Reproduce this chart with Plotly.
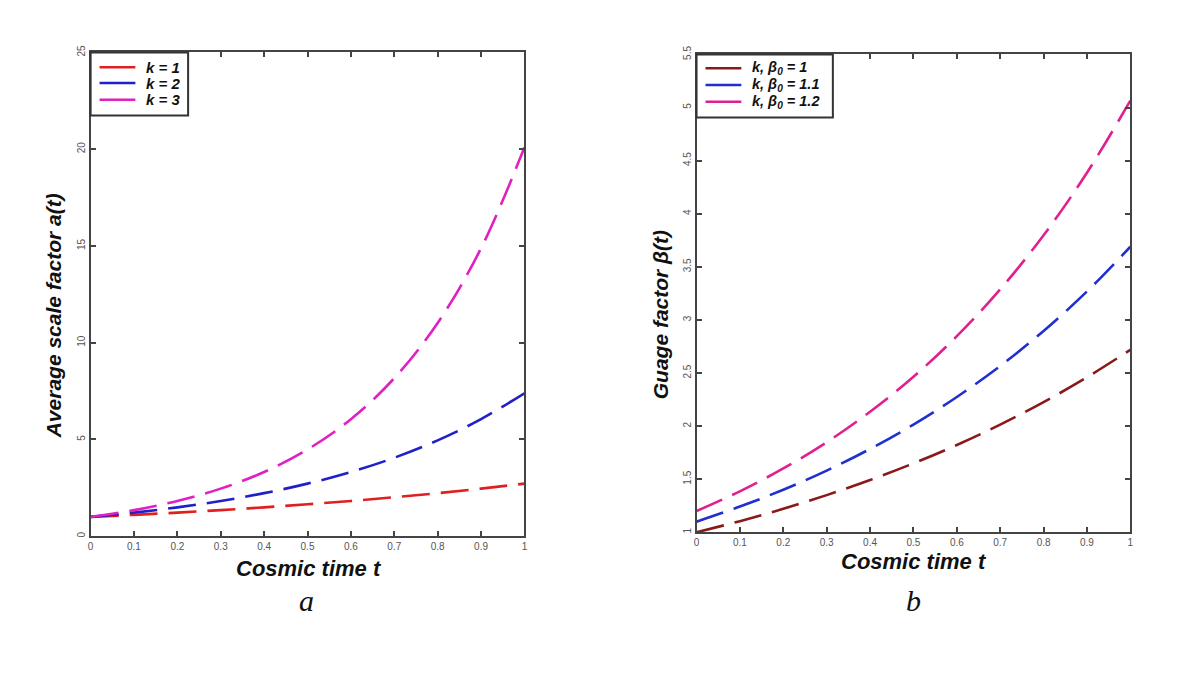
import plotly.graph_objects as go

# ---- data ----
t = [0, 0.1, 0.2, 0.3, 0.4, 0.5, 0.6, 0.7, 0.8, 0.9, 1.0]

a_k1 = [1.0, 1.105, 1.221, 1.350, 1.492, 1.649, 1.822, 2.014, 2.226, 2.460, 2.718]
a_k2 = [1.0, 1.221, 1.492, 1.822, 2.226, 2.718, 3.320, 4.055, 4.953, 6.050, 7.389]
a_k3 = [1.0, 1.350, 1.822, 2.460, 3.320, 4.482, 6.050, 8.166, 11.02, 14.88, 20.09]

b_10 = [1.0, 1.105, 1.221, 1.350, 1.492, 1.649, 1.822, 2.014, 2.226, 2.460, 2.718]
b_11 = [1.1, 1.242, 1.401, 1.581, 1.785, 2.014, 2.274, 2.566, 2.896, 3.268, 3.689]
b_12 = [1.2, 1.386, 1.601, 1.848, 2.135, 2.465, 2.847, 3.288, 3.797, 4.386, 5.065]

left_names = ["<b><i>k = 1</i></b>", "<b><i>k = 2</i></b>", "<b><i>k = 3</i></b>"]
right_names = ["<b><i>k, β<sub>0</sub> = 1</i></b>", "<b><i>k, β<sub>0</sub> = 1.1</i></b>",
               "<b><i>k, β<sub>0</sub> = 1.2</i></b>"]
x_ticks = [0, 0.1, 0.2, 0.3, 0.4, 0.5, 0.6, 0.7, 0.8, 0.9, 1]
x_tick_text = ["0", "0.1", "0.2", "0.3", "0.4", "0.5", "0.6", "0.7", "0.8", "0.9", "1"]
left_y_ticks = [0, 5, 10, 15, 20, 25]
right_y_ticks = [1, 1.5, 2, 2.5, 3, 3.5, 4, 4.5, 5, 5.5]

left_colors = ["#e02020", "#2020c8", "#e020c0"]
right_colors = ["#8a1a1a", "#2030d0", "#e0208f"]

W, H = 1196, 678
OFF = 8  # page body margin
def px_x(p): return (p - OFF) / W
def px_y(p): return 1 - (p - OFF) / H

fig = go.Figure()
DASH = "28px,11px"
for ys, nm, c in zip([a_k1, a_k2, a_k3], left_names, left_colors):
    fig.add_trace(go.Scatter(x=t, y=ys, name=nm, mode="lines", showlegend=False,
                             line=dict(color=c, width=2.6, dash=DASH, shape="spline"),
                             xaxis="x", yaxis="y"))
for ys, nm, c in zip([b_10, b_11, b_12], right_names, right_colors):
    fig.add_trace(go.Scatter(x=t, y=ys, name=nm, mode="lines", showlegend=False,
                             line=dict(color=c, width=2.6, dash=DASH, shape="spline"),
                             xaxis="x2", yaxis="y2"))

axis_common = dict(showgrid=False, zeroline=False, showline=True, linecolor="#444",
                   linewidth=2, mirror="ticks", ticks="inside", ticklen=5, tickwidth=1.5,
                   tickcolor="#444", tickfont=dict(family="Arial", size=10, color="#555"))

fig.update_layout(
    width=W, height=H, paper_bgcolor="white", plot_bgcolor="white",
    margin=dict(l=0, r=0, t=0, b=0), showlegend=False,
    xaxis=dict(domain=[px_x(88), px_x(524)], range=[0, 1], anchor="y",
               tickvals=x_ticks, ticktext=x_tick_text, **axis_common),
    yaxis=dict(domain=[px_y(535), px_y(44)], range=[0, 25], anchor="x",
               tickvals=left_y_ticks, tickangle=-90, **axis_common),
    xaxis2=dict(domain=[px_x(697), px_x(1133)], range=[0, 1], anchor="y2",
                tickvals=x_ticks, ticktext=x_tick_text, **axis_common),
    yaxis2=dict(domain=[px_y(531), px_y(46)], range=[1, 5.5], anchor="x2",
                tickvals=right_y_ticks, tickangle=-90, **axis_common),
)

shapes = []
ann = []

# legend boxes (drawn manually for tight spacing like the reference)
def add_legend(x0, x1, y0, y1, line_x0, line_x1, text_x, rows, names, colors, fsize):
    shapes.append(dict(type="rect", xref="paper", yref="paper",
                       x0=px_x(x0), x1=px_x(x1), y0=px_y(y1), y1=px_y(y0),
                       line=dict(color="#333", width=2), fillcolor="white", layer="above"))
    for ry, nm, c in zip(rows, names, colors):
        shapes.append(dict(type="line", xref="paper", yref="paper",
                           x0=px_x(line_x0), x1=px_x(line_x1), y0=px_y(ry), y1=px_y(ry),
                           line=dict(color=c, width=2.6), layer="above"))
        ann.append(dict(x=px_x(text_x), y=px_y(ry), text=nm, xanchor="left", yanchor="middle",
                        font=dict(family="Arial", size=fsize, color="#111")))

add_legend(88, 186, 44, 108, 97, 133, 142, [59, 75, 92], left_names, left_colors, 15)
add_legend(697, 834, 46, 110, 706, 742, 751, [60, 77, 94], right_names, right_colors, 14.5)

ann += [
    dict(x=px_x(308), y=px_y(568), text="<b><i>Cosmic time t</i></b>",
         font=dict(family="Arial", size=22, color="#111")),
    dict(x=px_x(916), y=px_y(561), text="<b><i>Cosmic time t</i></b>",
         font=dict(family="Arial", size=22, color="#111")),
    dict(x=px_x(51), y=px_y(311), text="<b><i>Average scale factor a(t)</i></b>",
         textangle=-90, font=dict(family="Arial", size=21, color="#111")),
    dict(x=px_x(661), y=px_y(310), text="<b><i>Guage factor β(t)</i></b>",
         textangle=-90, font=dict(family="Arial", size=21, color="#111")),
    dict(x=px_x(305), y=px_y(600), text="<i>a</i>",
         font=dict(family="Liberation Serif", size=30, color="#111")),
    dict(x=px_x(915), y=px_y(600), text="<i>b</i>",
         font=dict(family="Liberation Serif", size=30, color="#111")),
]
for a in ann:
    a.update(xref="paper", yref="paper", showarrow=False)
    a.setdefault("xanchor", "center")
    a.setdefault("yanchor", "middle")
fig.update_layout(annotations=ann, shapes=shapes)

fig.write_html("out.html")
